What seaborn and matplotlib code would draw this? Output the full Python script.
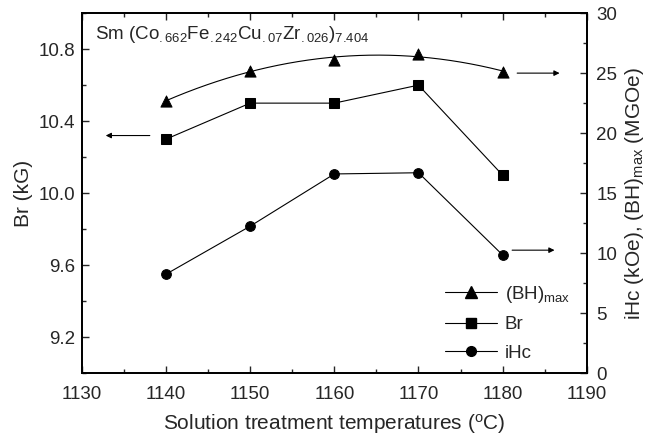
import numpy as np
import pandas as pd
import matplotlib
matplotlib.use("Agg")
import matplotlib.pyplot as plt
from matplotlib.lines import Line2D
from matplotlib.ticker import MultipleLocator
import seaborn as sns

temps = [1140, 1150, 1160, 1170, 1180]
br = [10.30, 10.50, 10.50, 10.60, 10.10]
bhmax = [22.7, 25.2, 26.1, 26.6, 25.1]
ihc = [8.25, 12.25, 16.6, 16.7, 9.85]

sns.set_style("ticks")
plt.rcParams["font.family"] = ["Liberation Sans", "DejaVu Sans"]
plt.rcParams["mathtext.fontset"] = "custom"
plt.rcParams["mathtext.rm"] = "Liberation Sans"
plt.rcParams["mathtext.it"] = "Liberation Sans"
plt.rcParams["mathtext.bf"] = "Liberation Sans:bold"
plt.rcParams["xtick.direction"] = "in"
plt.rcParams["ytick.direction"] = "in"

df = pd.DataFrame({"T": temps, "Br": br, "BH": bhmax, "iHc": ihc})

fig = plt.figure(figsize=(6.66, 4.37), dpi=100)
ax = fig.add_axes([0.123, 0.146, 0.758, 0.824])
ax2 = ax.twinx()

lw = 0.8
sns.lineplot(data=df, x="T", y="Br", ax=ax, color="black", marker="s",
             markersize=7, linewidth=lw, markeredgecolor="black")
sns.lineplot(data=df, x="T", y="iHc", ax=ax2, color="black", marker="o",
             markersize=7, linewidth=lw, markeredgecolor="black")
# fitted smooth curve for (BH)max
coef = np.polyfit(temps, bhmax, 2)
xs = np.linspace(temps[0], temps[-1], 200)
ax2.plot(xs, np.polyval(coef, xs), color="black", linewidth=lw)
sns.scatterplot(data=df, x="T", y="BH", ax=ax2, color="black", marker="^",
                s=65, edgecolor="black", zorder=5)

ax.set_xlim(1130, 1190)
ax.set_ylim(9.0, 11.0)
ax2.set_ylim(0, 30)
ax.xaxis.set_major_locator(MultipleLocator(10))
ax.xaxis.set_minor_locator(MultipleLocator(5))
ax.set_yticks([9.2, 9.6, 10.0, 10.4, 10.8])
ax.yaxis.set_minor_locator(MultipleLocator(0.2))
ax2.yaxis.set_major_locator(MultipleLocator(5))
ax2.yaxis.set_minor_locator(MultipleLocator(2.5))

for a in (ax, ax2):
    a.tick_params(which="major", direction="in", length=5, width=1, labelsize=13.5)
    a.tick_params(which="minor", direction="in", length=3, width=1)
    for s in a.spines.values():
        s.set_linewidth(1.3)
        s.set_color("black")
ax.tick_params(top=True, which="both")
ax.tick_params(axis="x", which="major", pad=9)
ax.tick_params(axis="y", which="major", pad=5)
ax2.tick_params(top=False, which="both")
ax2.tick_params(axis="y", which="major", pad=7)

ax.set_xlabel("Solution treatment temperatures ($^{\\rm o}$C)", fontsize=15, labelpad=7)
ax.set_ylabel("Br (kG)", fontsize=15, labelpad=4)
ax2.set_ylabel("iHc (kOe), (BH)$_{\\rm max}$ (MGOe)", fontsize=15, labelpad=4)

ax.text(0.025, 0.94, "Sm (Co$_{.662}$Fe$_{.242}$Cu$_{.07}$Zr$_{.026}$)$_{7.404}$",
        transform=ax.transAxes, fontsize=13.5, va="center", ha="left")

# arrows indicating which axis
arrowprops = dict(arrowstyle="-|>", color="black", lw=0.8, mutation_scale=8)
ax.annotate("", xy=(1132.5, 10.32), xytext=(1138.4, 10.32), arrowprops=arrowprops)
ax2.annotate("", xy=(1187.1, 25.0), xytext=(1181.4, 25.0), arrowprops=arrowprops)
ax2.annotate("", xy=(1186.5, 10.25), xytext=(1180.8, 10.25), arrowprops=arrowprops)

handles = [
    Line2D([], [], color="black", lw=lw, marker="^", markersize=8),
    Line2D([], [], color="black", lw=lw, marker="s", markersize=7),
    Line2D([], [], color="black", lw=lw, marker="o", markersize=7),
]
labels = ["(BH)$_{\\rm max}$", "Br", "iHc"]
ax2.legend(handles, labels, loc="lower right", bbox_to_anchor=(1.0, -0.015),
           frameon=False, fontsize=13.5, handlelength=2.8, handletextpad=0.4,
           labelspacing=0.6)

fig.savefig("out.png", dpi=100)
